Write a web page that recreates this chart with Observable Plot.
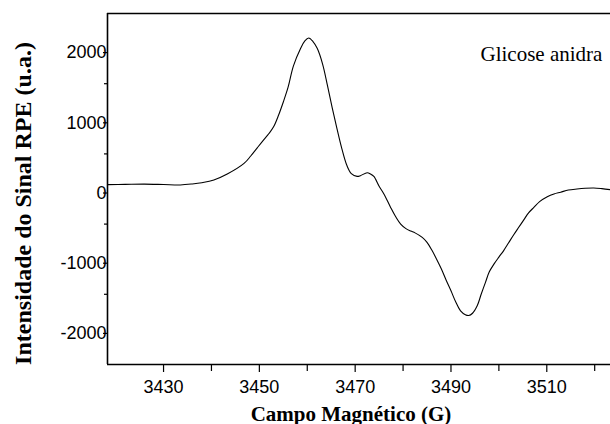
<!DOCTYPE html>
<html>
<head>
<meta charset="utf-8">
<script src="https://cdn.jsdelivr.net/npm/d3@7"></script>
<script src="https://cdn.jsdelivr.net/npm/@observablehq/plot@0.6"></script>
<style>
  html, body { margin: 0; padding: 0; background: #fff; }
  #chart svg { display: block; }
</style>
</head>
<body>
<div id="chart"></div>
<script>
// Magnetic field (G)
const fieldG = [3418.3, 3422, 3426, 3430, 3433.5, 3436, 3438, 3440.5, 3443.3, 3446.8,
  3448.2, 3449.6, 3450.9, 3452, 3453, 3454, 3455, 3456, 3457.1, 3458.6,
  3459.5, 3460.3, 3461.2, 3462.1, 3463.2, 3464.2, 3465.2, 3466.2, 3467.2, 3468.3,
  3469.2, 3470.4, 3471.1, 3472.5, 3473.2, 3473.9, 3475, 3476, 3477.4, 3478.5,
  3479.5, 3480.6, 3481.6, 3482.5, 3484, 3485, 3486, 3487, 3488, 3489,
  3490, 3491, 3492, 3493, 3493.7, 3494.5, 3495.5, 3496.3, 3497.2, 3498,
  3499, 3500, 3501, 3502, 3503.1, 3504, 3505.2, 3506.2, 3507.3, 3508.5,
  3510.1, 3511.5, 3512.9, 3514.5, 3516.3, 3518, 3519.8, 3521.5, 3523.3];
// EPR signal intensity (a.u.)
const intensity = [62, 66, 70, 64, 58, 72, 90, 128, 213, 364,
  470, 590, 700, 790, 890, 1050, 1240, 1450, 1750, 2000,
  2110, 2150, 2100, 2000, 1780, 1480, 1160, 860, 580, 330,
  220, 180, 190, 232, 215, 180, 40, -70, -262, -400,
  -500, -565, -600, -625, -690, -760, -870, -1000, -1140, -1300,
  -1450, -1610, -1735, -1790, -1802, -1770, -1660, -1500, -1330, -1180,
  -1067, -970, -877, -770, -652, -560, -440, -340, -262, -180,
  -110, -70, -45, -15, 0, 10, 14, 5, -10];

const xMajor = [3430, 3450, 3470, 3490, 3510];
const xMinor = [3440, 3460, 3480, 3500, 3520];
const yMajor = [-2000, -1000, 0, 1000, 2000];
const yMinor = [-1500, -500, 500, 1500];
const xTitle = "Campo Magnético (G)";
const yTitle = "Intensidade do Sinal RPE (u.a.)";
const sampleLabel = "Glicose anidra";

const data = fieldG.map((g, i) => ({g, v: intensity[i]}));
const xDomain = [3418.3, 3523.3];
const yDomain = [-2500, 2500];

const sans = "'Liberation Sans', Arial, sans-serif";
const serif = "'Liberation Serif', 'Times New Roman', serif";

const chart = Plot.plot({
  width: 610,
  height: 424,
  marginLeft: 107,
  marginRight: 0,
  marginTop: 13,
  marginBottom: 60,
  style: {fontFamily: sans, fontSize: "18px", color: "#000", background: "#fff"},
  x: {domain: xDomain},
  y: {domain: yDomain},
  marks: [
    Plot.axisX(xMajor, {tickSize: 8, tickPadding: 8, fontSize: 18, tickFormat: d => String(d), label: null, strokeWidth: 1.2}),
    Plot.axisX(xMinor, {tickSize: 7, text: null, label: null, strokeWidth: 1.2}),
    Plot.axisY(yMajor, {tickSize: 4, tickPadding: -3, dy: 4, fontSize: 18, tickFormat: d => String(d), label: null, strokeWidth: 1.2}),
    Plot.axisY(yMinor, {tickSize: 3, text: null, label: null, strokeWidth: 1.2}),
    Plot.ruleX([xDomain[0]], {strokeWidth: 1.6}),
    Plot.ruleY([yDomain[0], yDomain[1]], {strokeWidth: 1.6}),
    Plot.line(data, {x: "g", y: "v", stroke: "#000", strokeWidth: 1.1, curve: "catmull-rom"}),
    Plot.text([sampleLabel], {frameAnchor: "top-left", dx: 373, dy: 47, fontFamily: serif, fontSize: 21, textAnchor: "start", lineAnchor: "bottom"}),
    Plot.text([xTitle], {frameAnchor: "bottom", dx: (350.5 - (107 + 610) / 2), dy: 56, fontFamily: serif, fontWeight: "bold", fontSize: 21, lineAnchor: "bottom"}),
    Plot.text([yTitle], {frameAnchor: "left", dx: -77, dy: 203 - (13 + 364) / 2, rotate: -90, textAnchor: "middle", fontFamily: serif, fontWeight: "bold", fontSize: 24, lineAnchor: "bottom"})
  ]
});
document.getElementById("chart").appendChild(chart);
</script>
</body>
</html>
